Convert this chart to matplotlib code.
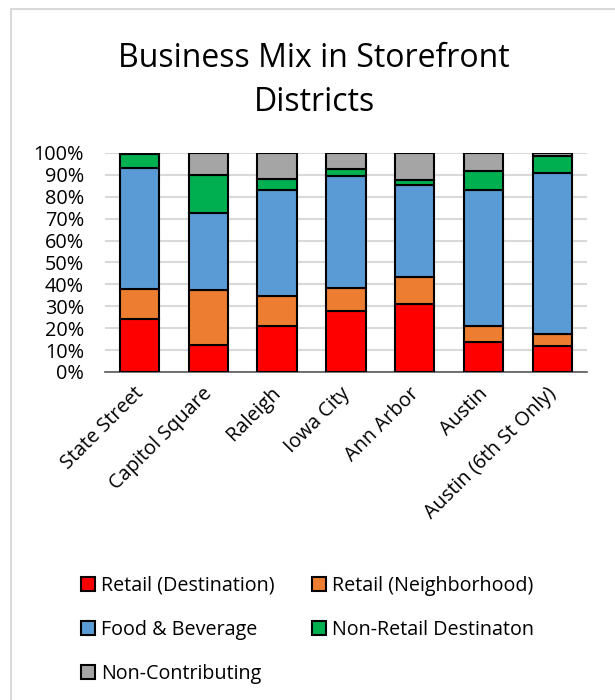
import numpy as np
import matplotlib.pyplot as plt
import matplotlib.transforms as mtrans
from matplotlib.patches import Rectangle

plt.rcParams['font.family'] = ['Open Sans', 'DejaVu Sans']

districts = ['State Street', 'Capitol Square', 'Raleigh', 'Iowa City',
             'Ann Arbor', 'Austin', 'Austin (6th St Only)']
retail_dest = [24.0, 12.3, 20.9, 28.0, 31.0, 13.7, 11.7]
retail_neigh = [14.0, 25.0, 13.8, 10.2, 12.4, 7.2, 5.5]
food_bev = [55.3, 35.1, 48.3, 51.4, 41.8, 62.1, 73.5]
non_retail = [6.1, 17.4, 5.1, 2.9, 2.3, 8.9, 7.9]
non_contrib = [0.6, 10.2, 11.9, 7.5, 12.5, 8.1, 1.4]

series = [
    ('Retail (Destination)', retail_dest, '#FF0000'),
    ('Retail (Neighborhood)', retail_neigh, '#ED7D31'),
    ('Food & Beverage', food_bev, '#5B9BD5'),
    ('Non-Retail Destinaton', non_retail, '#00B050'),
    ('Non-Contributing', non_contrib, '#A5A5A5'),
]

fig = plt.figure(figsize=(6.15, 7), dpi=100)
ax = fig.add_axes([0.1707, 0.4686, 0.7837, 0.3129])

x = np.arange(len(districts))
bottom = np.zeros(len(districts))
handles = {}
for name, vals, col in series:
    vals = np.array(vals)
    b = ax.bar(x, vals, 0.57, bottom=bottom, color=col, edgecolor='black',
               linewidth=1.5, label=name, zorder=3)
    handles[name] = b
    bottom += vals

ax.set_xlim(-0.5, 6.5)
ax.set_ylim(0, 100)
ax.set_yticks(np.arange(0, 101, 10))
ax.set_yticklabels([f'{v}%' for v in range(0, 101, 10)], fontsize=14.3)
ax.set_xticks(x)
ax.set_xticklabels(districts, rotation=45, ha='right', rotation_mode='anchor',
                   fontsize=14.3)
ax.tick_params(axis='y', length=0, pad=15)
ax.tick_params(axis='x', length=0, pad=4)
# nudge the slanted labels a little down-left, like the original
offset = mtrans.ScaledTranslation(-6 / 100, -6 / 100, fig.dpi_scale_trans)
for lab in ax.get_xticklabels():
    lab.set_transform(lab.get_transform() + offset)
ax.grid(axis='y', color='#d9d9d9', linewidth=1.5, zorder=0)
for s in ['top', 'right', 'left']:
    ax.spines[s].set_visible(False)
ax.spines['bottom'].set_color('#595959')
ax.spines['bottom'].set_linewidth(1.2)

fig.text(0.511, 0.885, 'Business Mix in Storefront\nDistricts', ha='center',
         va='center', fontsize=23, linespacing=1.42)

order = ['Retail (Destination)', 'Food & Beverage', 'Non-Contributing',
         'Retail (Neighborhood)', 'Non-Retail Destinaton']
leg = fig.legend([handles[n] for n in order], order, ncol=2,
                 loc='upper left', bbox_to_anchor=(0.103, 0.203),
                 frameon=False, fontsize=14.2, handlelength=0.7,
                 handleheight=0.7, handletextpad=0.3, columnspacing=1.9,
                 labelspacing=1.22)

fig.patches.append(Rectangle((11 / 615, -0.05), 1.1, 1 - 8.5 / 700 + 0.05,
                             transform=fig.transFigure, fill=False,
                             edgecolor='#d9d9d9', linewidth=1.5))

fig.savefig('out.png', dpi=100)
